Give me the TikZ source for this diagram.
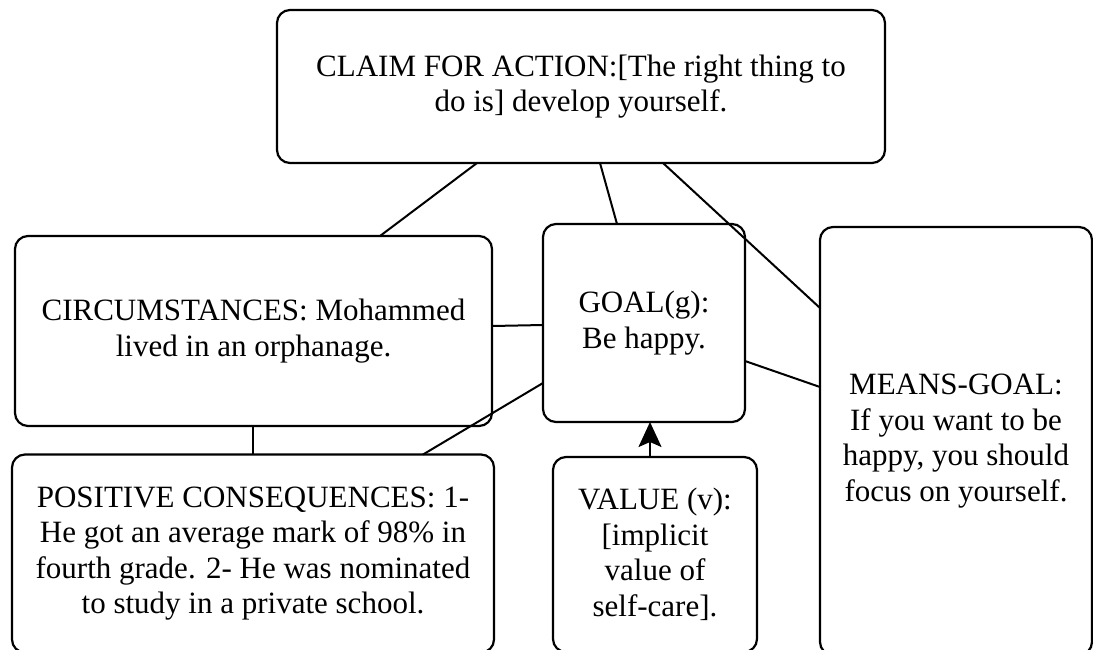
\documentclass[tikz,border=0pt]{standalone}
\usepackage{fontspec}
\setmainfont{Liberation Serif}
\usetikzlibrary{arrows.meta}

\begin{document}
\begin{tikzpicture}[x=0.5pt, y=-0.5pt,
  box/.style={draw=black, fill=white, line width=1.1pt, rounded corners=6.5pt,
    inner sep=0pt, outer sep=0pt, align=center,
    font=\fontsize{15.5pt}{17.8pt}\selectfont},
  link/.style={draw=black, line width=1pt},
  linkarrow/.style={link, -{Stealth[length=12.5pt, width=11.5pt, inset=2.5pt]}}]

\useasboundingbox (0,0) rectangle (1093,649);
\clip (0,0) rectangle (1093,649);

% argument boxes
\node[box, minimum width=304pt, minimum height=76.5pt] (claim) at (581,86.5)
  {CLAIM FOR ACTION:[The right thing to\\do is] develop yourself.};
\node[box, minimum width=238.5pt, minimum height=95pt] (circ) at (253.5,331)
  {CIRCUMSTANCES: Mohammed\\lived in an orphanage.};
\node[box, minimum width=101pt, minimum height=99pt] (goal) at (644,323)
  {GOAL(g):\\Be happy.};
\node[box, minimum width=136pt, minimum height=214pt] (means) at (956,441)
  {MEANS-GOAL:\\If you want to be\\happy, you should\\focus on yourself.};
\node[box, minimum width=241pt, minimum height=99pt] (pos) at (253,553.5)
  {POSITIVE CONSEQUENCES: 1-\\He got an average mark of 98\% in\\fourth grade. 2- He was nominated\\to study in a private school.};
\node[box, minimum width=102pt, minimum height=97.5pt] (value) at (655,554.5)
  {VALUE (v):\\{[}implicit\\value of\\self-care].};

% connectors
\draw[link] (claim.south -| 477,0) -- (circ.north -| 380,0);
\draw[link] (claim.south -| 600,0) -- (goal.north -| 617,0);
\draw[link] (claim.south -| 663,0) -- (means.west |- 0,308);
\draw[link] (circ.east |- 0,326) -- (goal.west |- 0,325);
\draw[link] (goal.east |- 0,361) -- (means.west |- 0,387);
\draw[link] (pos.north -| 423,0) -- (goal.west |- 0,383);
\draw[link] (circ.south -| 253,0) -- (pos.north -| 253,0);
\draw[linkarrow] (value.north -| 650,0) -- (goal.south -| 650,0);

\end{tikzpicture}
\end{document}
